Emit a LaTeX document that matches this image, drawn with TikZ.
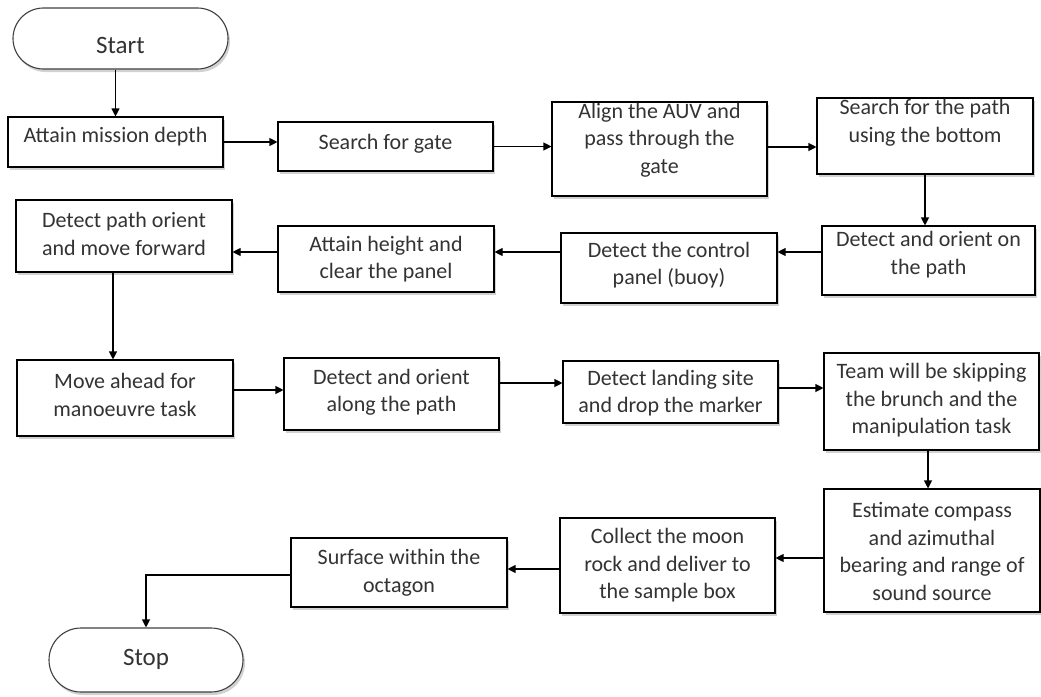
\documentclass[tikz,border=0pt]{standalone}
\usepackage{fontspec}
\setmainfont{Carlito}
\usetikzlibrary{arrows.meta,shadows,shapes.misc}
\tikzset{
  box/.style={draw=black, line width=1.1pt, fill=white, inner sep=0pt,
    drop shadow={shadow xshift=2pt, shadow yshift=-3pt, opacity=0.3, fill=black!60}},
  term/.style={box, rounded rectangle, draw=black!75},
  lbl/.style={align=center, font=\fontsize{22}{27.5}\selectfont, text=black!80, inner sep=0pt},
  tlbl/.style={lbl, font=\fontsize{25}{30}\selectfont},
  arr/.style={line width=1.1pt, -{Triangle[length=8pt,width=8pt]}},
}
\newcommand\flowbox[7]{%
  \node[box, minimum width={#4pt-#2pt}, minimum height={#5pt-#3pt}] (#1) at ({(#2+#4)/2},{(#3+#5)/2}) {};
  \node[lbl] (#1t) at ({(#2+#4)/2},{(#3+#5)/2+#6}) {#7};
}
\begin{document}
\begin{tikzpicture}[x=1pt,y=-1pt]
\useasboundingbox (0,0) rectangle (1041,696);

\node[term, minimum width=215pt, minimum height=61pt] (start) at (120.5,38.5) {};
\node[tlbl] (startt) at (120.5,45) {Start};
\node[term, minimum width=194pt, minimum height=64pt] (stop) at (146,660) {};
\node[tlbl] (stopt) at (146,659) {Stop};

\flowbox{b1}{8}{117}{223}{167}{-5}{Attain mission depth}
\flowbox{b2}{278}{122}{493}{171}{-3}{Search for gate}
\flowbox{b3}{552}{102}{767}{196}{-9}{Align the AUV and\\pass through the\\gate}
\flowbox{b4}{817}{98}{1033}{174}{-13}{Search for the path\\using the bottom}
\flowbox{b5}{822}{226}{1035}{295}{-6}{Detect and orient on\\the path}
\flowbox{b6}{561}{233}{777}{303}{-3}{Detect the control\\panel (buoy)}
\flowbox{b7}{278}{226}{494}{292}{0}{Attain height and\\clear the panel}
\flowbox{b8}{16}{200}{232}{272}{-2}{Detect path orient\\and move forward}
\flowbox{b9}{17}{360}{233}{436}{-3}{Move ahead for\\manoeuvre task}
\flowbox{b10}{284}{358}{499}{430}{-2}{Detect and orient\\along the path}
\flowbox{b11}{563}{361}{778}{423}{1}{Detect landing site\\and drop the marker}
\flowbox{b12}{824}{353}{1039}{450}{-1}{Team will be skipping\\the brunch and the\\manipulation task}
\flowbox{b13}{824}{489}{1040}{612}{1}{Estimate compass\\and azimuthal\\bearing and range of\\sound source}
\flowbox{b14}{560}{518}{775}{613}{0}{Collect the moon\\rock and deliver to\\the sample box}
\flowbox{b15}{291}{538}{507}{607}{0}{Surface within the\\octagon}

\draw[arr] (b1.north |- start.south) -- (b1.north);
\draw[arr] (b1.east) -- (b1.east -| b2.west);
\draw[arr] (b2.east) -- (b2.east -| b3.west);
\draw[arr] (b3.east |- 0,147) -- (b4.west |- 0,147);
\draw[arr] (b4.south) -- (b4.south |- b5.north);
\draw[arr] (b5.west |- 0,252) -- (b6.east |- 0,252);
\draw[arr] (b6.west |- 0,252) -- (b7.east |- 0,252);
\draw[arr] (b7.west |- 0,252) -- (b8.east |- 0,252);
\draw[arr] (b8.south -| 113,0) -- (b9.north -| 113,0);
\draw[arr] (b9.east |- 0,390) -- (b10.west |- 0,390);
\draw[arr] (b10.east |- 0,383) -- (b11.west |- 0,383);
\draw[arr] (b11.east |- 0,388) -- (b12.west |- 0,388);
\draw[arr] (b12.south -| 928,0) -- (b13.north -| 928,0);
\draw[arr] (b13.west |- 0,558) -- (b14.east |- 0,558);
\draw[arr] (b14.west |- 0,569) -- (b15.east |- 0,569);
\draw[arr] (b15.west |- 0,575) -| (stop.north);
\end{tikzpicture}
\end{document}
